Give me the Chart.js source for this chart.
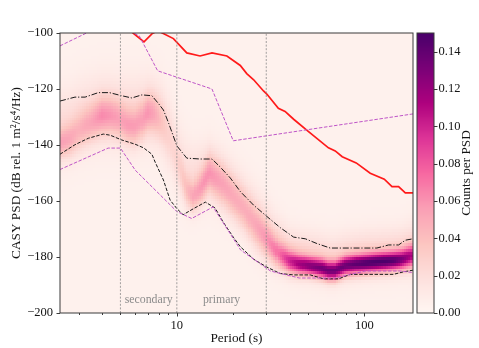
<!DOCTYPE html>
<html><head><meta charset="utf-8">
<script src="https://cdn.jsdelivr.net/npm/chart.js@4.4.1/dist/chart.umd.min.js"></script>
<style>html,body{margin:0;padding:0;background:#fff;}</style>
</head><body>
<canvas id="c" width="479" height="348"></canvas>
<script>
// ---------------- data ----------------
const xMajorTicks = [10, 100];
const xMinorTicks = [3, 4, 5, 6, 7, 8, 9, 20, 30, 40, 50, 60, 70, 80, 90];
const yTicks = [-200, -180, -160, -140, -120, -100];
const cbTicks = [0, 0.02, 0.04, 0.06, 0.08, 0.10, 0.12, 0.14];
const microseismPeriods = [5, 10, 30];
const microseismLabels = ['secondary', 'primary'];

// red curve
const redPeriods = [5.6, 5.86, 6.68, 7.36, 7.9, 8.41, 9.59, 11.3, 13.3, 15.4, 18.5, 21.8, 23.6, 25.7, 29.0, 30.2, 34.8, 37.8, 42.0, 49.5, 64.4, 70.0, 76.3, 90.6, 107.6, 127.9, 140.6, 152.5, 165.6, 182];
const redDb = [-99, -100.1, -103.2, -100.3, -99.2, -100.1, -102.0, -107.1, -108.2, -107.1, -108.2, -111.6, -114.5, -116.7, -120.7, -121.8, -126.9, -128.0, -130.8, -134.8, -141.0, -142.1, -144.2, -146.4, -150.1, -152.2, -154.9, -154.9, -157.1, -157.1];

// upper percentile (dash-dot)
const upperPeriods = [2.38, 2.86, 3.24, 3.81, 4.37, 5.08, 5.75, 6.51, 7.36, 7.98, 8.48, 9.02, 10, 11.3, 13.3, 15.4, 17.0, 19.3, 21.8, 25.7, 30.2, 35.6, 42.0, 48.5, 55.9, 65.8, 89.3, 116.8, 134.8, 152.5, 165.6, 182];
const upperDb = [-124.3, -122.9, -122.9, -121.3, -121.3, -122.4, -123.2, -122.1, -122.4, -125.2, -127.5, -132.0, -140.3, -144.7, -145.0, -145.0, -147.8, -151.8, -156.6, -161.5, -165.5, -169.5, -172.9, -173.5, -175.2, -176.8, -176.8, -176.8, -175.7, -175.7, -174.0, -173.5];

// lower percentile (dashed)
const lowerPeriods = [2.38, 2.86, 3.37, 4.05, 4.41, 5.08, 5.98, 6.64, 7.36, 7.66, 8.48, 9.21, 10, 10.8, 12.3, 14.2, 16.0, 17.7, 20.0, 21.8, 25.7, 30.2, 35.6, 42.0, 51.5, 60.7, 72.9, 84.2, 112.2, 143.2, 162.2, 182];
const lowerDb = [-143.3, -139.9, -137.6, -136.1, -136.5, -138.2, -139.7, -141.0, -143.3, -146.1, -152.5, -159.7, -162.7, -164.9, -162.7, -160.4, -162.5, -167.6, -172.9, -176.3, -180.8, -183.6, -185.9, -186.4, -186.4, -187.8, -187.8, -186.2, -186.2, -186.2, -185.3, -184.7];

// noise models (breakpoints)
const nhnmPeriods = [2.38, 3.8, 4.6, 6.3, 7.9, 15.4, 20, 182];
const nhnmDb = [-104.6, -98.0, -96.5, -101.0, -113.5, -120.0, -138.5, -128.9];
const nlnmPeriods = [2.38, 2.4, 4.3, 5.0, 6.0, 10, 12, 15.6, 21.9, 31.6, 45, 70, 101, 154, 182];
const nlnmDb = [-148.84, -148.65, -141.1, -141.1, -149.0, -163.75, -166.25, -162.13, -177.5, -185.0, -187.5, -187.5, -185.0, -185.0, -185.54];

// density histogram, read per period column: main ridge and its broad halo
const densityPeriods = [2.38, 2.7, 3.0, 3.5, 4.0, 4.5, 5.0, 5.5, 6.0, 6.5, 7.0, 7.5, 8.0, 8.5, 9.0, 9.5, 10, 10.7, 11.3, 12.3, 13.5, 15, 17, 20, 23, 26, 30, 35, 40, 45, 50, 55, 60, 65, 70, 80, 90, 100, 115, 130, 145, 160, 182];
const ridgeDb = [-139.5, -138, -135.5, -132, -129.5, -129.5, -131, -133, -133.5, -131.5, -128.5, -128.5, -130, -132, -136, -141, -145, -151, -156, -158.5, -155.5, -150, -153, -158.5, -163, -168.5, -173.5, -179, -181.5, -182.5, -183, -183.5, -184, -184.8, -184.8, -183, -182.5, -182.2, -181.8, -181.5, -181.2, -180.8, -179.5];
const ridgeSpread = [3.5, 4, 4.5, 4.5, 4.5, 4.5, 4.5, 4.3, 4.3, 4.5, 4.5, 4.7, 5, 5.5, 6, 6, 5.5, 5, 4, 3.6, 4, 4.5, 5, 5, 5, 5, 4.3, 3.3, 2.8, 2.5, 2.3, 2.3, 2.3, 2.3, 2.3, 2.3, 2.3, 2.3, 2.3, 2.3, 2.3, 2.4, 2.7];
const ridgePeak = [0.038, 0.034, 0.028, 0.032, 0.04, 0.036, 0.032, 0.036, 0.036, 0.033, 0.036, 0.032, 0.025, 0.018, 0.013, 0.011, 0.012, 0.018, 0.027, 0.038, 0.04, 0.036, 0.033, 0.03, 0.028, 0.03, 0.036, 0.05, 0.075, 0.09, 0.1, 0.105, 0.11, 0.112, 0.112, 0.11, 0.115, 0.12, 0.122, 0.122, 0.118, 0.105, 0.085];
const haloDb = [-133, -132, -130, -128.5, -127.5, -127.5, -128, -128.5, -128.5, -128, -127.5, -128, -129, -131, -134, -138, -142, -146, -149, -151, -150, -149, -151.5, -156, -160.5, -165, -170, -175, -178, -179, -179.5, -180, -180.5, -181, -181, -180, -179.5, -179, -178.8, -178.5, -178.2, -177.8, -177];
const haloSpread = [8.5, 8.5, 8.5, 8.5, 8.5, 8.5, 8.5, 8.5, 8.5, 8.5, 8.5, 8.5, 8.5, 9, 9, 9, 9, 8.5, 8, 7.5, 7, 7, 7, 7, 7, 7, 7, 6, 5.5, 5.5, 5.5, 5.5, 5.5, 5.5, 5.5, 5.5, 5.5, 5.5, 5.5, 5.5, 5.5, 5.5, 6];
const haloPeak = [0.017, 0.017, 0.017, 0.018, 0.019, 0.019, 0.019, 0.019, 0.019, 0.019, 0.019, 0.018, 0.016, 0.014, 0.012, 0.011, 0.011, 0.012, 0.014, 0.016, 0.018, 0.02, 0.018, 0.017, 0.017, 0.018, 0.02, 0.022, 0.024, 0.025, 0.025, 0.025, 0.025, 0.025, 0.025, 0.025, 0.025, 0.025, 0.025, 0.025, 0.025, 0.025, 0.025];
const backgroundDensity = 0.005;

// ---------------- helpers ----------------
const SERIF = "'Liberation Serif', 'DejaVu Serif', serif";
const TXT = '#141414';
const SPINE = '#3a3a3a';
const RDPU = [[255,247,243],[253,224,221],[252,197,192],[250,159,181],[247,104,161],[221,52,151],[174,1,126],[122,1,119],[73,0,106]];
const CB_MAX = 0.15;
function colorFor(v) {
  let t = Math.max(0, Math.min(1, v / CB_MAX)) * (RDPU.length - 1);
  const i = Math.min(RDPU.length - 2, Math.floor(t)), f = t - i;
  const a = RDPU[i], b = RDPU[i + 1];
  return 'rgb(' + Math.round(a[0] + (b[0] - a[0]) * f) + ',' + Math.round(a[1] + (b[1] - a[1]) * f) + ',' + Math.round(a[2] + (b[2] - a[2]) * f) + ')';
}
function pts(px, py) { return px.map((p, i) => ({ x: p, y: py[i] })); }
function columnAt(p) {
  const lp = Math.log10(p);
  let k = 0;
  while (k < densityPeriods.length - 2 && Math.log10(densityPeriods[k + 1]) < lp) k++;
  const l0 = Math.log10(densityPeriods[k]), l1 = Math.log10(densityPeriods[k + 1]);
  const f = Math.max(0, Math.min(1, (lp - l0) / (l1 - l0)));
  const m = arr => arr[k] + (arr[k + 1] - arr[k]) * f;
  return [m(ridgeDb), m(ridgeSpread), m(ridgePeak), m(haloDb), m(haloSpread), m(haloPeak)];
}
function densityAt(col, db) {
  const g1 = (db - col[0]) / col[1], g2 = (db - col[3]) / col[4];
  return backgroundDensity + col[2] * Math.exp(-0.5 * g1 * g1) + col[5] * Math.exp(-0.5 * g2 * g2);
}

// ---------------- plugins ----------------
const heatmapPlugin = {
  id: 'heatmap',
  beforeDatasetsDraw(chart) {
    const { ctx, chartArea: a, scales: { x, y } } = chart;
    ctx.save();
    ctx.beginPath(); ctx.rect(a.left, a.top, a.right - a.left, a.bottom - a.top); ctx.clip();
    const l0 = Math.log10(x.min), l1 = Math.log10(x.max);
    const nCols = 170, dbStep = 1;
    for (let i = 0; i < nCols; i++) {
      const la = l0 + (l1 - l0) * i / nCols, lb = l0 + (l1 - l0) * (i + 1) / nCols;
      const col = columnAt(Math.pow(10, (la + lb) / 2));
      const xa = Math.floor(x.getPixelForValue(Math.pow(10, la)));
      const xb = Math.ceil(x.getPixelForValue(Math.pow(10, lb)));
      for (let db = y.min; db < y.max; db += dbStep) {
        ctx.fillStyle = colorFor(densityAt(col, db + dbStep / 2));
        const ya = Math.floor(y.getPixelForValue(db + dbStep));
        const yb = Math.ceil(y.getPixelForValue(db));
        ctx.fillRect(xa, ya, xb - xa, yb - ya);
      }
    }
    ctx.restore();
  }
};

const decorPlugin = {
  id: 'decor',
  afterDatasetsDraw(chart) {
    const { ctx, chartArea: a, scales: { x, y } } = chart;
    ctx.save();
    ctx.fillStyle = '#8c8c8c';
    ctx.font = '11.8px ' + SERIF;
    ctx.textAlign = 'center'; ctx.textBaseline = 'middle';
    const ly = y.getPixelForValue(-195.3);
    for (let i = 0; i < microseismLabels.length; i++) {
      const pc = Math.sqrt(microseismPeriods[i] * microseismPeriods[i + 1]);
      ctx.fillText(microseismLabels[i], x.getPixelForValue(pc), ly);
    }
    ctx.strokeStyle = SPINE; ctx.lineWidth = 1;
    ctx.strokeRect(a.left, a.top, a.right - a.left, a.bottom - a.top);
    ctx.beginPath();
    xMajorTicks.forEach(v => { const px = Math.round(x.getPixelForValue(v)) + 0.5; ctx.moveTo(px, a.bottom); ctx.lineTo(px, a.bottom + 3.5); });
    xMinorTicks.forEach(v => { const px = Math.round(x.getPixelForValue(v)) + 0.5; ctx.moveTo(px, a.bottom); ctx.lineTo(px, a.bottom + 2); });
    yTicks.forEach(v => { const py = Math.round(y.getPixelForValue(v)) + 0.5; ctx.moveTo(a.left, py); ctx.lineTo(a.left - 3.5, py); });
    ctx.stroke();
    ctx.restore();
  },
  afterDraw(chart) {
    const { ctx, scales: { cb } } = chart;
    ctx.save();
    const x0 = cb.left + 4, x1 = cb.left + 21;
    for (let v = 0; v < CB_MAX; v += 0.0005) {
      const ya = cb.getPixelForValue(Math.min(CB_MAX, v + 0.0005)), yb = cb.getPixelForValue(v);
      ctx.fillStyle = colorFor(v + 0.00025);
      ctx.fillRect(x0, Math.floor(ya), x1 - x0, Math.ceil(yb) - Math.floor(ya));
    }
    ctx.strokeStyle = SPINE; ctx.lineWidth = 1;
    const yt = cb.getPixelForValue(CB_MAX), yb = cb.getPixelForValue(0);
    ctx.strokeRect(x0, yt, x1 - x0, yb - yt);
    ctx.beginPath();
    cbTicks.forEach(v => { const py = Math.round(cb.getPixelForValue(v)) + 0.5; ctx.moveTo(x1, py); ctx.lineTo(x1 + 3.5, py); });
    ctx.stroke();
    ctx.fillStyle = TXT;
    ctx.font = '13.3px ' + SERIF;
    ctx.textAlign = 'center'; ctx.textBaseline = 'middle';
    ctx.translate(cb.left + 54, (yt + yb) / 2);
    ctx.rotate(-Math.PI / 2);
    ctx.fillText('Counts per PSD', 0, 0);
    ctx.restore();
  }
};

// ---------------- chart ----------------
const vline = p => ({
  data: [{ x: p, y: -200 }, { x: p, y: -100 }],
  borderColor: '#8a8a8a', borderWidth: 0.8, borderDash: [2, 1.6], pointRadius: 0
});
const datasets = [
  ...microseismPeriods.map(vline),
  { data: pts(nhnmPeriods, nhnmDb), borderColor: '#bf55c8', borderWidth: 1, borderDash: [3.5, 1.6], pointRadius: 0 },
  { data: pts(nlnmPeriods, nlnmDb), borderColor: '#bf55c8', borderWidth: 1, borderDash: [3.5, 1.6], pointRadius: 0 },
  { data: pts(upperPeriods, upperDb), borderColor: '#1a1a1a', borderWidth: 1, borderDash: [6, 1.8, 1.2, 1.8], pointRadius: 0 },
  { data: pts(lowerPeriods, lowerDb), borderColor: '#1a1a1a', borderWidth: 1, borderDash: [3.5, 1.6], pointRadius: 0 },
  { data: pts(redPeriods, redDb), borderColor: '#ff1a1a', borderWidth: 1.7, pointRadius: 0 }
];

new Chart(document.getElementById('c'), {
  type: 'line',
  data: { datasets },
  options: {
    responsive: false, animation: false, devicePixelRatio: 1,
    layout: { padding: { top: 19, left: 0, right: 0, bottom: 0 } },
    plugins: { legend: { display: false }, tooltip: { enabled: false } },
    elements: { line: { tension: 0 } },
    scales: {
      x: {
        type: 'logarithmic', min: 2.38, max: 182, position: 'bottom',
        afterBuildTicks: s => { s.ticks = xMajorTicks.map(v => ({ value: v })); },
        afterFit: s => { s.height = 35; },
        ticks: { callback: v => String(v), font: { family: SERIF, size: 12.5 }, color: TXT, padding: 5, maxRotation: 0, autoSkip: false },
        grid: { display: false, drawTicks: false }, border: { display: false },
        title: { display: true, text: 'Period (s)', color: TXT, font: { family: SERIF, size: 13.3 }, padding: { top: 0, bottom: 1.5 } }
      },
      y: {
        type: 'linear', min: -200, max: -100, position: 'left',
        afterBuildTicks: s => { s.ticks = yTicks.map(v => ({ value: v })); },
        afterFit: s => { s.width = 60; },
        ticks: { callback: v => String(v).replace('-', '\u2212'), font: { family: SERIF, size: 12.5 }, color: TXT, padding: 7 },
        grid: { display: false, drawTicks: false }, border: { display: false },
        title: { display: true, text: 'CASY PSD (dB rel. 1 m\u00b2/s\u2074/Hz)', color: TXT, font: { family: SERIF, size: 13.3 }, padding: { top: 9, bottom: 0 } }
      },
      cb: {
        type: 'linear', min: 0, max: CB_MAX, position: 'right', display: true,
        afterBuildTicks: s => { s.ticks = cbTicks.map(v => ({ value: v })); },
        afterFit: s => { s.width = 66; },
        ticks: { callback: v => v.toFixed(2), font: { family: SERIF, size: 12.5 }, color: TXT, padding: 25.5 },
        grid: { display: false, drawTicks: false }, border: { display: false }
      }
    }
  },
  plugins: [heatmapPlugin, decorPlugin]
});
</script>
</body></html>
